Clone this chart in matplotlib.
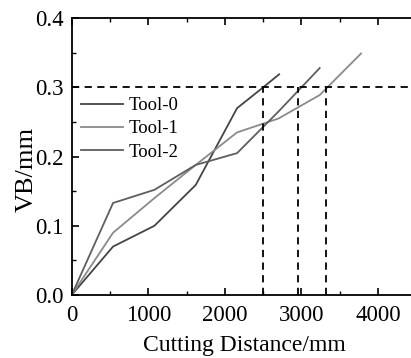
import matplotlib.pyplot as plt
from matplotlib.ticker import MultipleLocator

plt.rcParams["font.family"] = ["Liberation Serif", "DejaVu Serif"]

# cutting distance (mm) and flank wear VB (mm)
tool0_x = [0, 540, 1080, 1620, 2160, 2500, 2710]
tool0_vb = [0.0, 0.070, 0.100, 0.159, 0.270, 0.300, 0.319]
tool1_x = [0, 540, 1080, 1620, 2160, 2700, 3240, 3780]
tool1_vb = [0.0, 0.090, 0.140, 0.188, 0.235, 0.255, 0.289, 0.349]
tool2_x = [0, 540, 1080, 1620, 2160, 2700, 3240]
tool2_vb = [0.0, 0.133, 0.152, 0.188, 0.205, 0.265, 0.328]
labels = ["Tool-0", "Tool-1", "Tool-2"]
colors = ["#444444", "#8a8a8a", "#5e5e5e"]

vb_limit = 0.3
life_x = [2500, 2960, 3320]

fig = plt.figure(figsize=(4.11, 3.58), dpi=100)
ax = fig.add_axes([0.1745, 0.176, 0.838, 0.773])

for xs, ys, lab, c in zip([tool0_x, tool1_x, tool2_x], [tool0_vb, tool1_vb, tool2_vb], labels, colors):
    ax.plot(xs, ys, color=c, linewidth=1.3, label=lab)

ax.axhline(vb_limit, color="black", linestyle=(0, (4, 3)), linewidth=1.3)
for lx in life_x:
    ax.plot([lx, lx], [0, vb_limit], color="black", linestyle=(0, (4, 3)), linewidth=1.3)

ax.set_xlim(0, 4500)
ax.set_ylim(0, 0.4)
ax.xaxis.set_major_locator(MultipleLocator(1000))
ax.xaxis.set_minor_locator(MultipleLocator(500))
ax.yaxis.set_major_locator(MultipleLocator(0.1))
ax.yaxis.set_minor_locator(MultipleLocator(0.05))
ax.yaxis.set_major_formatter(plt.FormatStrFormatter("%.1f"))
ax.tick_params(which="both", direction="in", top=True, right=False, labelsize=16.5)
ax.tick_params(which="major", length=5, width=1.2)
ax.tick_params(axis="x", which="major", pad=7.5)
ax.tick_params(axis="y", which="major", pad=6)
ax.tick_params(which="minor", length=3, width=1.0)
for sp in ax.spines.values():
    sp.set_linewidth(1.3)

ax.set_xlabel("Cutting Distance/mm", fontsize=17, labelpad=6.5)
ax.set_ylabel("VB/mm", fontsize=19)
ax.yaxis.set_label_coords(-0.10, 0.455)

ax.legend(loc="upper left", bbox_to_anchor=(0.026, 0.715), frameon=False, fontsize=13.5,
          handlelength=2.27, handletextpad=0.27, labelspacing=0.32, borderpad=0, borderaxespad=0)

fig.savefig("out.png", dpi=100)
